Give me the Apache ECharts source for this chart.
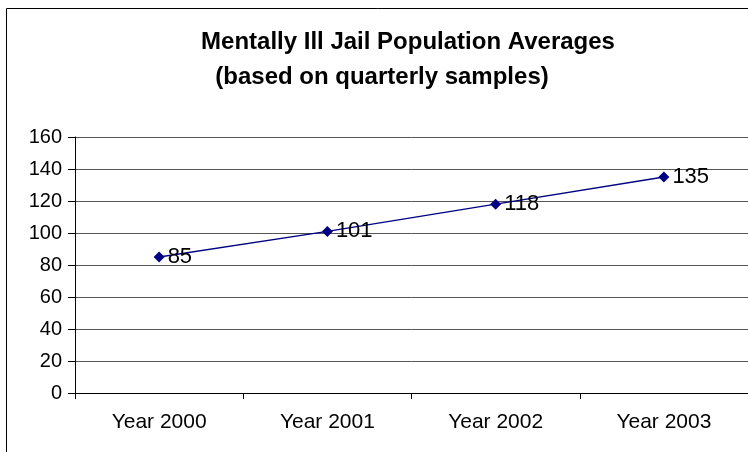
<!DOCTYPE html>
<html>
<head>
<meta charset="utf-8">
<script src="https://cdn.jsdelivr.net/npm/echarts@6/dist/echarts.min.js"></script>
<style>
  html, body { margin: 0; padding: 0; background: #fff; }
  #main { width: 748px; height: 452px; }
</style>
</head>
<body>
<div id="main"></div>
<script>
var years = ['Year 2000', 'Year 2001', 'Year 2002', 'Year 2003'];
var averages = [85, 101, 118, 135];

var myChart = echarts.init(document.getElementById('main'));
var font = 'Liberation Sans, Arial, sans-serif';

myChart.setOption({
  backgroundColor: '#fff',
  animation: false,
  title: [{
    text: 'Mentally Ill Jail Population Averages',
    left: 403, top: 25, textAlign: 'center',
    textStyle: { fontFamily: font, fontSize: 24, fontWeight: 'bold', color: '#000' }
  }, {
    text: '(based on quarterly samples)',
    left: 377, top: 60, textAlign: 'center',
    textStyle: { fontFamily: font, fontSize: 24, fontWeight: 'bold', color: '#000' }
  }],
  graphic: [{
    type: 'rect',
    shape: { x: 6.5, y: 8.5, width: 800, height: 500 },
    style: { fill: 'none', stroke: '#000', lineWidth: 1 },
    silent: true
  }],
  grid: { left: 75, right: 0, top: 137, bottom: 59 },
  xAxis: {
    type: 'category',
    data: years,
    boundaryGap: true,
    axisLine: { lineStyle: { color: '#000', width: 1 } },
    axisTick: { show: true, length: 6, lineStyle: { color: '#000' } },
    axisLabel: { fontFamily: font, fontSize: 21, color: '#000', margin: 19 },
    splitLine: { show: false }
  },
  yAxis: {
    type: 'value',
    min: 0, max: 160, interval: 20,
    axisLine: { show: true, lineStyle: { color: '#000', width: 1 } },
    axisTick: { show: true, length: 7, lineStyle: { color: '#000' } },
    axisLabel: { fontFamily: font, fontSize: 20, color: '#000', margin: 13 },
    splitLine: { show: true, lineStyle: { color: '#555', width: 1 } }
  },
  series: [{
    type: 'line',
    data: averages,
    symbol: 'diamond',
    symbolSize: 11,
    lineStyle: { color: '#000080', width: 1.3 },
    itemStyle: { color: '#000080' },
    label: {
      show: true, position: 'right', distance: 3,
      fontFamily: font, fontSize: 22, color: '#000'
    }
  }]
});
</script>
</body>
</html>
